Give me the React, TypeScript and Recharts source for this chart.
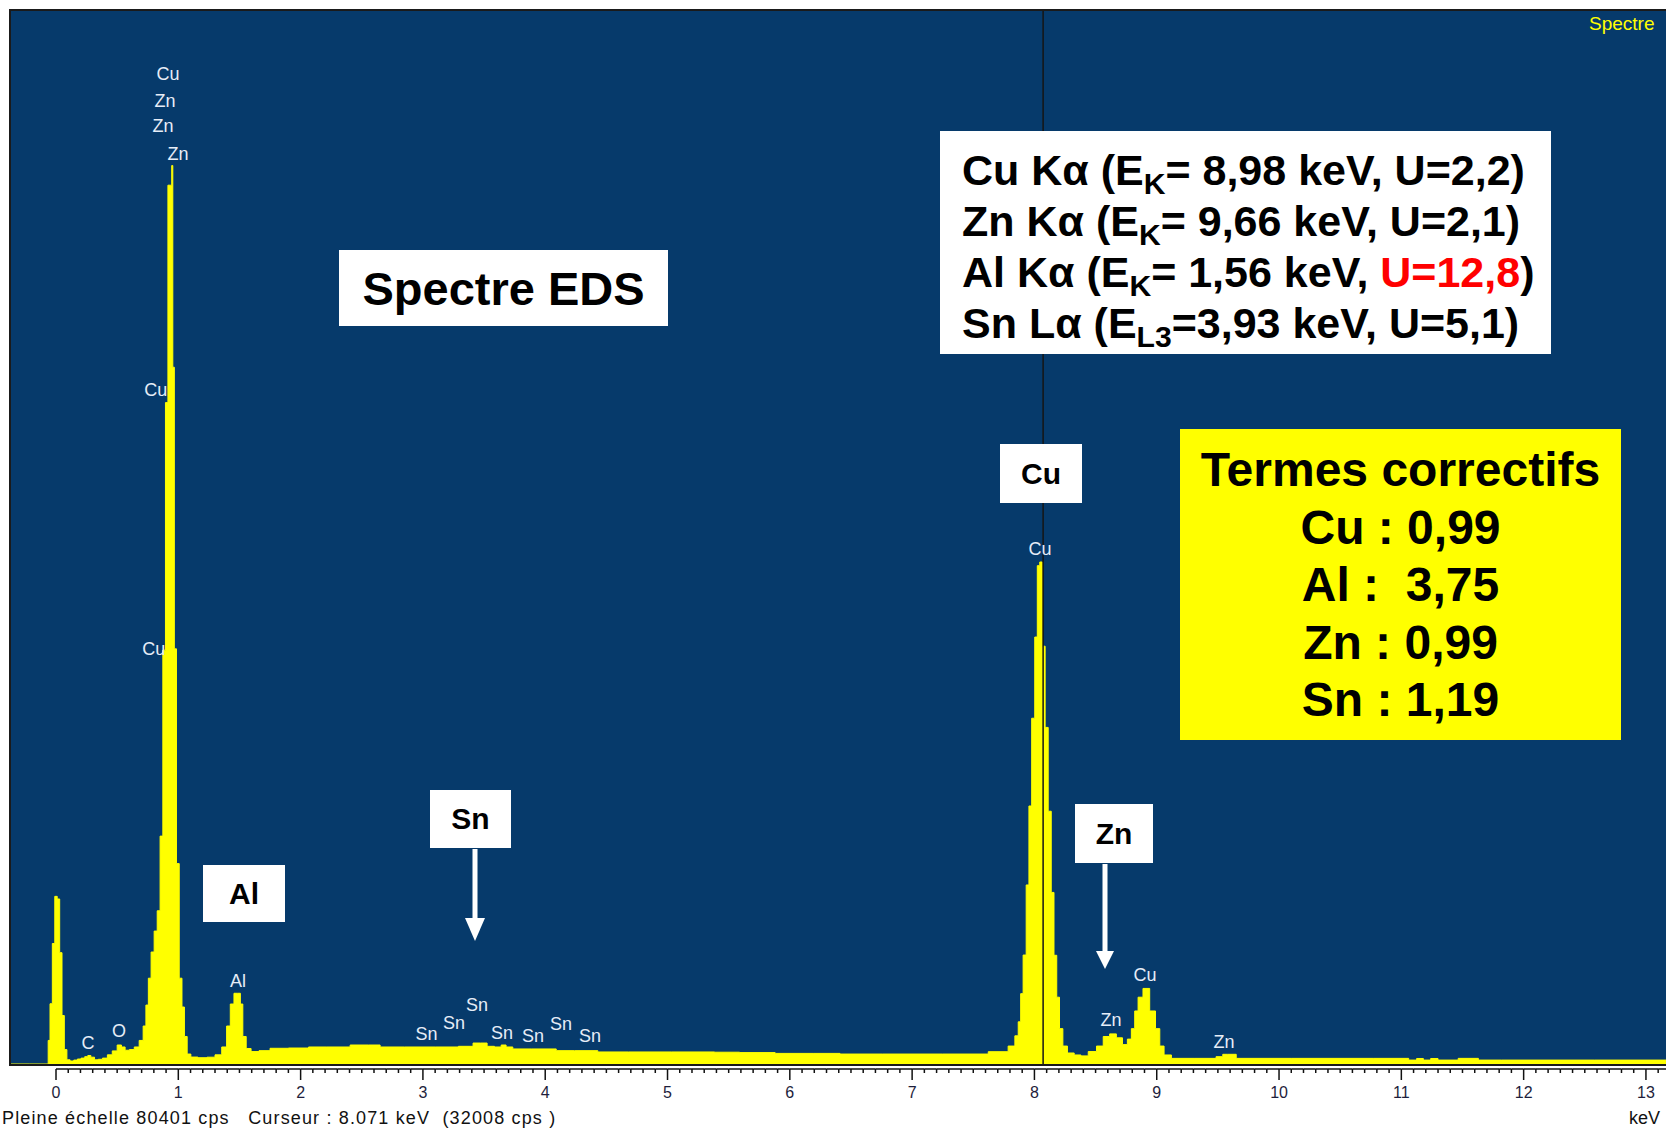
import React from 'react';
import {
  ComposedChart, Area, XAxis, YAxis, CartesianGrid, ReferenceLine, ReferenceDot,
} from 'recharts';

const W = 1666;
const H = 1129;

// EDS spectrum: energy (keV) -> count rate (cps)
const ENERGY_KEV = [
  -0.368, -0.07, -0.058, -0.04, -0.02, 0.0, 0.02, 0.04, 0.058, 0.078,
  0.1, 0.13, 0.16, 0.19, 0.22, 0.25, 0.27, 0.3, 0.33, 0.36,
  0.4, 0.44, 0.48, 0.52, 0.55, 0.58, 0.62, 0.66, 0.7, 0.725,
  0.745, 0.765, 0.79, 0.815, 0.84, 0.862, 0.885, 0.905, 0.925, 0.942,
  0.95, 0.96, 0.975, 0.995, 1.02, 1.04, 1.06, 1.085, 1.12, 1.2,
  1.27, 1.33, 1.38, 1.41, 1.44, 1.47, 1.5, 1.515, 1.54, 1.57,
  1.62, 1.7, 1.8, 2.0, 2.13, 2.3, 2.51, 2.6, 2.7, 3.0,
  3.2, 3.38, 3.44, 3.5, 3.55, 3.62, 3.66, 3.7, 3.77, 4.0,
  4.18, 4.3, 4.56, 4.8, 5.27, 5.5, 5.68, 6.08, 6.3, 6.52,
  7.0, 7.5, 7.745, 7.825, 7.855, 7.88, 7.895, 7.92, 7.945, 7.965,
  7.99, 8.015, 8.032, 8.055, 8.075, 8.1, 8.125, 8.15, 8.17, 8.195,
  8.215, 8.25, 8.29, 8.36, 8.4, 8.48, 8.535, 8.59, 8.64, 8.7,
  8.74, 8.78, 8.805, 8.835, 8.86, 8.915, 8.97, 9.01, 9.04, 9.08,
  9.16, 9.45, 9.52, 9.56, 9.6, 9.7, 10.5, 11.04, 11.08, 11.17,
  11.19, 11.29, 11.31, 11.62, 11.64, 12.0, 13.164,
];
const COUNTS_CPS = [
  0, 0, 1800, 4600, 9200, 12800, 12600, 8500, 3700, 1100,
  320, 230, 300, 380, 450, 560, 650, 520, 320, 360,
  450, 700, 1000, 1450, 1300, 1050, 1100, 1300, 1800, 2900,
  4500, 6550, 8550, 10150, 11700, 17400, 31600, 50500, 67100, 67100,
  68600, 53200, 31700, 15300, 6550, 4350, 2100, 760, 530, 480,
  520, 700, 1300, 2900, 4580, 5400, 5400, 4580, 2100, 1180,
  950, 1020, 1200, 1220, 1300, 1300, 1450, 1450, 1300, 1300,
  1300, 1350, 1600, 1600, 1350, 1300, 1450, 1300, 1150, 1150,
  1020, 1020, 920, 920, 920, 900, 870, 810, 810, 760,
  760, 760, 940, 1370, 2150, 3220, 5370, 8320, 13670, 19700,
  26400, 32600, 38050, 38330, 31900, 25700, 19300, 13100, 8300, 5100,
  2700, 1370, 840, 690, 620, 950, 1370, 2100, 2300, 2000,
  1480, 1900, 2700, 4050, 5100, 5770, 4050, 2700, 1370, 690,
  430, 430, 560, 740, 740, 430, 430, 430, 300, 420,
  300, 420, 300, 430, 300, 300, 300,
];

const MAJOR_TICKS = [0, 1, 2, 3, 4, 5, 6, 7, 8, 9, 10, 11, 12, 13];

const X_MIN = -0.368;
const X_MAX = 13.164;
const FULL_SCALE = 80401;
const CURSOR_KEV = 8.071;

// element markers placed over the spectrum (position in keV / cps)
const PEAK_LABELS = [
  { text: 'Cu', kev: 0.916, cps: 75590 },
  { text: 'Zn', kev: 0.891, cps: 73530 },
  { text: 'Zn', kev: 0.875, cps: 71620 },
  { text: 'Zn', kev: 0.998, cps: 69550 },
  { text: 'Cu', kev: 0.815, cps: 51470 },
  { text: 'Cu', kev: 0.8, cps: 31690 },
  { text: 'C', kev: 0.262, cps: 1600 },
  { text: 'O', kev: 0.515, cps: 2520 },
  { text: 'Al', kev: 1.488, cps: 6340 },
  { text: 'Sn', kev: 3.03, cps: 2290 },
  { text: 'Sn', kev: 3.254, cps: 3130 },
  { text: 'Sn', kev: 3.442, cps: 4500 },
  { text: 'Sn', kev: 3.647, cps: 2370 },
  { text: 'Sn', kev: 3.9, cps: 2140 },
  { text: 'Sn', kev: 4.129, cps: 3050 },
  { text: 'Sn', kev: 4.366, cps: 2140 },
  { text: 'Cu', kev: 8.046, cps: 39320 },
  { text: 'Zn', kev: 8.626, cps: 3360 },
  { text: 'Cu', kev: 8.904, cps: 6800 },
  { text: 'Zn', kev: 9.55, cps: 1680 },
];

const data = ENERGY_KEV.map((kev, i) => ({ kev, cps: COUNTS_CPS[i] }));

const minorTicks = MAJOR_TICKS.flatMap(t =>
  Array.from({ length: 10 }, (_, i) => Math.round((t + i / 10) * 10) / 10),
).filter(v => v <= X_MAX);

const PLOT_LEFT = 11;
const PX_PER_KEV = (W - PLOT_LEFT) / (X_MAX - X_MIN);

const FONT = '"Liberation Sans", Arial, Helvetica, sans-serif';

function RulerTick({ x, y, payload }: any) {
  const v = payload.value as number;
  const major = Math.abs(v - Math.round(v)) < 1e-6;
  const y0 = y + 5;
  const last = v >= 13.1 - 1e-6;
  return (
    <g>
      <line x1={x} x2={last ? W : x + 0.1 * PX_PER_KEV} y1={y0} y2={y0} stroke="#111" strokeWidth={1.5} />
      <line x1={x} x2={x} y1={y0} y2={y0 + (major ? 11 : 4)} stroke="#111" strokeWidth={1.5} />
      {major && (
        <text x={x} y={y0 + 23} textAnchor="middle" dominantBaseline="central"
          fontFamily={FONT} fontSize={16} fill="#1e1e3c">
          {v}
        </text>
      )}
    </g>
  );
}

const box: React.CSSProperties = {
  position: 'absolute',
  background: '#fff',
  color: '#000',
  fontFamily: FONT,
  fontWeight: 'bold',
  display: 'flex',
  alignItems: 'center',
  justifyContent: 'center',
  boxSizing: 'border-box',
};

const sub: React.CSSProperties = { fontSize: '0.7em', position: 'relative', top: '0.3em', lineHeight: 0 };
const infoLine: React.CSSProperties = { height: 51, lineHeight: '51px', overflow: 'visible' };
const footer: React.CSSProperties = {
  position: 'absolute', top: 1108, fontFamily: FONT, fontSize: 18, lineHeight: '20px', color: '#111', whiteSpace: 'pre',
};

export default function App() {
  return (
    <div style={{ position: 'absolute', left: 0, top: 0, width: W, height: H, overflow: 'hidden', background: '#fff' }}>
      <ComposedChart width={W} height={H} data={data} margin={{ top: 11, right: 0, left: PLOT_LEFT, bottom: 25 }}>
        <CartesianGrid fill="#063a6b" stroke="none" horizontal={false} vertical={false} />
        <XAxis
          dataKey="kev"
          type="number"
          domain={[X_MIN, X_MAX]}
          allowDataOverflow
          ticks={minorTicks}
          interval={0}
          axisLine={false}
          tickLine={false}
          tickSize={0}
          tickMargin={0}
          height={40}
          tick={<RulerTick />}
        />
        <YAxis hide domain={[0, FULL_SCALE]} allowDataOverflow />
        <Area
          dataKey="cps"
          type="step"
          stroke="#ffff00"
          strokeWidth={1}
          fill="#ffff00"
          fillOpacity={1}
          dot={false}
          activeDot={false}
          isAnimationActive={false}
        />
        <ReferenceLine x={CURSOR_KEV} stroke="#151515" strokeWidth={1.5} />
        {PEAK_LABELS.map((l, i) => (
          <ReferenceDot
            key={i}
            x={l.kev}
            y={l.cps}
            r={0}
            fill="none"
            stroke="none"
            label={{ value: l.text, position: 'center', fill: '#e6edf7', fontSize: 18, fontFamily: FONT }}
          />
        ))}
      </ComposedChart>

      {/* plot frame */}
      <div style={{ position: 'absolute', left: 9, top: 9, width: W, height: 1057, border: '2px solid #1a1a1a', boxSizing: 'border-box', pointerEvents: 'none' }} />

      <div style={{ position: 'absolute', left: 1589, top: 13, fontFamily: FONT, fontSize: 19, lineHeight: '22px', color: '#ffff00' }}>Spectre</div>

      <div style={{ ...footer, left: 2, letterSpacing: 1.15 }}>
        {'Pleine échelle 80401 cps   Curseur : 8.071 keV  (32008 cps )'}
      </div>
      <div style={{ ...footer, left: 1629 }}>keV</div>

      {/* annotation boxes */}
      <div style={{ ...box, left: 339, top: 250, width: 329, height: 76, fontSize: 47 }}>Spectre EDS</div>

      <div style={{ ...box, left: 940, top: 131, width: 611, height: 223, display: 'block', padding: '14px 0 0 22px', fontSize: 43, whiteSpace: 'pre' }}>
        <div style={infoLine}>Cu K{'\u03b1'} (E<span style={sub}>K</span>= 8,98 keV, U=2,2)</div>
        <div style={infoLine}>Zn K{'\u03b1'} (E<span style={sub}>K</span>= 9,66 keV, U=2,1)</div>
        <div style={infoLine}>Al K{'\u03b1'} (E<span style={sub}>K</span>= 1,56 keV, <span style={{ color: '#ff0000' }}>U=12,8</span>)</div>
        <div style={infoLine}>Sn L{'\u03b1'} (E<span style={sub}>L3</span>=3,93 keV, U=5,1)</div>
      </div>

      <div style={{ ...box, left: 1180, top: 429, width: 441, height: 311, display: 'block', background: '#ffff00', paddingTop: 12, textAlign: 'center', fontSize: 48, lineHeight: '57.5px', whiteSpace: 'pre' }}>
        <div>Termes correctifs</div>
        <div>Cu : 0,99</div>
        <div>Al :  3,75</div>
        <div>Zn : 0,99</div>
        <div>Sn : 1,19</div>
      </div>

      <div style={{ ...box, left: 1000, top: 444, width: 82, height: 59, fontSize: 30 }}>Cu</div>
      <div style={{ ...box, left: 1075, top: 804, width: 78, height: 59, fontSize: 30 }}>Zn</div>
      <div style={{ ...box, left: 430, top: 790, width: 81, height: 58, fontSize: 30 }}>Sn</div>
      <div style={{ ...box, left: 203, top: 865, width: 82, height: 57, fontSize: 30 }}>Al</div>

      <svg width={W} height={H} style={{ position: 'absolute', left: 0, top: 0, pointerEvents: 'none' }}>
        <rect x={472.5} y={849} width={5} height={70} fill="#fff" />
        <polygon points="465,918 485,918 475,941" fill="#fff" />
        <rect x={1102.5} y={864} width={5} height={88} fill="#fff" />
        <polygon points="1096,951 1114,951 1105,969" fill="#fff" />
      </svg>
    </div>
  );
}
